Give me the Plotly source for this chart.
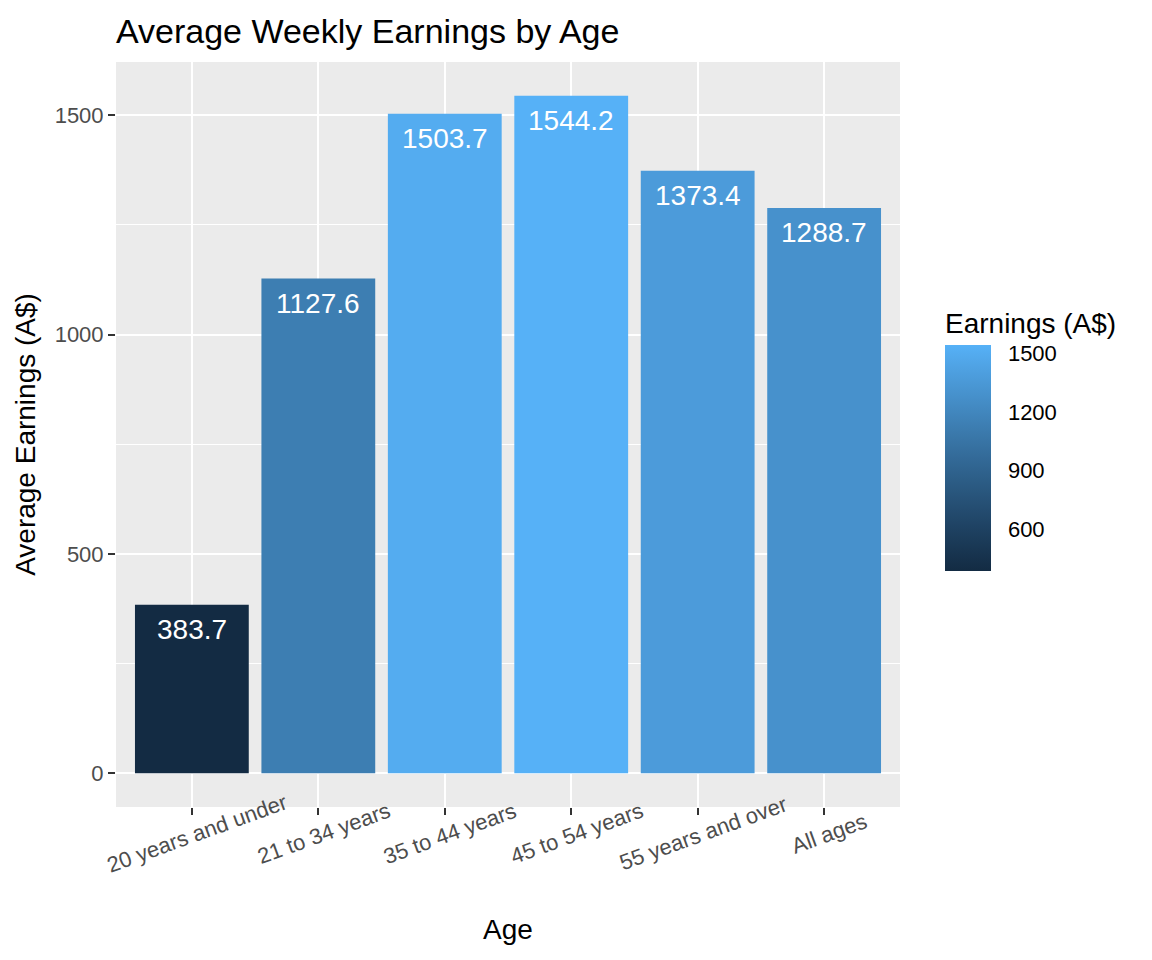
import plotly.graph_objects as go
import numpy as np

categories = ["20 years and under", "21 to 34 years", "35 to 44 years",
              "45 to 54 years", "55 years and over", "All ages"]
earnings = [383.7, 1127.6, 1503.7, 1544.2, 1373.4, 1288.7]
labels = [f"{v:.1f}" for v in earnings]
cbar_ticks = [600, 900, 1200, 1500]
y_ticks = [0, 500, 1000, 1500]
y_minor = [250, 750, 1250]


# ggplot-like Lab gradient #132B43 -> #56B1F7
def hex2rgb(h):
    h = h.lstrip("#")
    return np.array([int(h[i:i+2], 16) for i in (0, 2, 4)]) / 255.0


def srgb2lin(c):
    return np.where(c <= 0.04045, c / 12.92, ((c + 0.055) / 1.055) ** 2.4)


def lin2srgb(c):
    c = np.clip(c, 0, 1)
    return np.where(c <= 0.0031308, 12.92 * c, 1.055 * c ** (1 / 2.4) - 0.055)


M = np.array([[0.4124, 0.3576, 0.1805], [0.2126, 0.7152, 0.0722], [0.0193, 0.1192, 0.9505]])
Minv = np.linalg.inv(M)
WP = np.array([0.95047, 1.0, 1.08883])


def f(t):
    return np.where(t > (6/29) ** 3, np.cbrt(t), t / (3 * (6/29) ** 2) + 4/29)


def finv(t):
    return np.where(t > 6/29, t ** 3, 3 * (6/29) ** 2 * (t - 4/29))


def rgb2lab(rgb):
    xyz = M @ srgb2lin(rgb) / WP
    fx, fy, fz = f(xyz)
    return np.array([116 * fy - 16, 500 * (fx - fy), 200 * (fy - fz)])


def lab2rgb(lab):
    L, a, b = lab
    fy = (L + 16) / 116
    fx = fy + a / 500
    fz = fy - b / 200
    xyz = np.array([finv(fx), finv(fy), finv(fz)]) * WP
    return lin2srgb(Minv @ xyz)


lo, hi = rgb2lab(hex2rgb("#132B43")), rgb2lab(hex2rgb("#56B1F7"))
scale = []
for t in np.linspace(0, 1, 11):
    c = lab2rgb(lo + (hi - lo) * t)
    r, g, b = (np.round(c * 255)).astype(int)
    scale.append([float(t), f"rgb({r},{g},{b})"])

FONT = "Liberation Sans, Arial, sans-serif"

W, H = 1144, 952
L, T, R, B = 108, 54, 252, 153

fig = go.Figure(go.Bar(
    x=categories, y=earnings, width=0.9,
    marker=dict(color=earnings, colorscale=scale, cmin=min(earnings), cmax=max(earnings),
                line=dict(width=0),
                colorbar=dict(
                    title=dict(text="Earnings (A$)", side="top",
                               font=dict(size=28, color="black", family=FONT)),
                    thickness=46, len=262, lenmode="pixels",
                    x=1.0574, xanchor="left", xpad=0,
                    y=0.3168, yanchor="bottom", ypad=0,
                    outlinewidth=0, tickvals=cbar_ticks,
                    ticks="outside", ticklen=13, tickcolor="rgba(0,0,0,0)", tickwidth=1,
                    tickfont=dict(size=22, color="black", family=FONT),
                )),
    hoverinfo="skip",
))

# value labels inside bar tops
for c, v, lab in zip(categories, earnings, labels):
    fig.add_annotation(x=c, y=v, text=lab, showarrow=False, yanchor="middle",
                       yshift=-25, font=dict(color="white", size=28, family=FONT))

# rotated category labels, centred under each tick (ggplot angle=20 style)
for c in categories:
    fig.add_annotation(x=c, xref="x", y=-0.0349, yref="paper", text=c, showarrow=False,
                       textangle=-20, xanchor="center", yanchor="middle", xshift=5,
                       font=dict(color="#4D4D4D", size=22, family=FONT))

fig.update_layout(
    width=W, height=H,
    paper_bgcolor="white", plot_bgcolor="#EBEBEB",
    margin=dict(l=L, r=R, t=T, b=B),
    font=dict(family=FONT),
    title=dict(text="Average Weekly Earnings by Age", x=L / W, xanchor="left",
               y=1 - 23 / H, yanchor="middle",
               font=dict(size=34, color="black", family=FONT)),
    showlegend=False,
)
fig.update_xaxes(
    range=[-0.6, 5.6], showgrid=True, gridcolor="white", gridwidth=2,
    ticks="outside", ticklen=7, tickcolor="#333333", tickwidth=2,
    showticklabels=False, automargin=False,
    title=dict(text="Age", font=dict(size=28, color="black", family=FONT), standoff=105),
    zeroline=False, showline=False,
)
fig.update_yaxes(
    range=[-77.21, 1621.41], tickvals=y_ticks,
    showgrid=True, gridcolor="white", gridwidth=2,
    minor=dict(tickvals=y_minor, showgrid=True, gridcolor="white", gridwidth=1, ticks=""),
    ticks="outside", ticklen=7, tickcolor="#333333", tickwidth=2,
    tickfont=dict(size=22, color="#4D4D4D", family=FONT), automargin=False,
    title=dict(text="Average Earnings (A$)", font=dict(size=28, color="black", family=FONT), standoff=10),
    zeroline=False, showline=False,
)

fig.write_html("out.html")
